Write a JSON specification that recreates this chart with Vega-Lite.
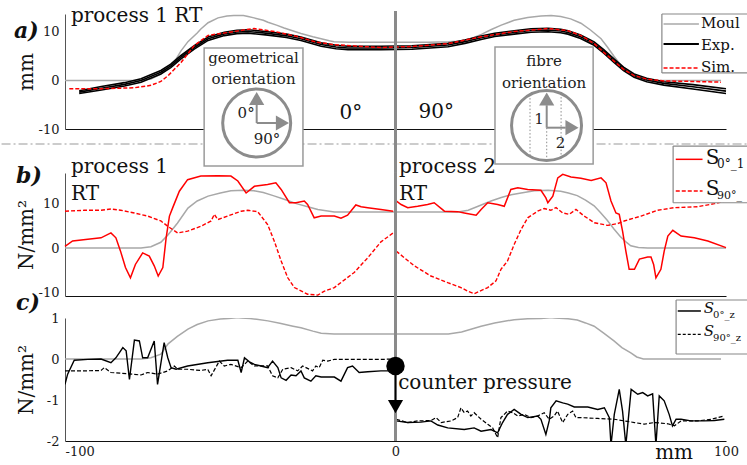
{
"$schema": "https://vega.github.io/schema/vega-lite/v6.json",
"background": "white",
"padding": 0,
"config": {
  "font": "'DejaVu Serif', 'Liberation Serif', serif",
  "view": {"stroke": null},
  "axis": {"grid": false, "ticks": false, "labelFontSize": 13, "labelColor": "#1a1a1a", "titleFontSize": 20, "titleFontWeight": "normal", "titleColor": "#111", "labelPadding": 6, "labelFont": "'DejaVu Serif', 'Liberation Serif', serif", "titleFont": "'DejaVu Serif', 'Liberation Serif', serif"},
  "axisY": {"minExtent": 24, "maxExtent": 24, "titlePadding": 5, "domainColor": "#555"},
  "axisX": {"domainColor": "#111"},
  "text": {"font": "'DejaVu Serif', 'Liberation Serif', serif"}
},
"datasets": {
  "a_mould": [
    {"x":-100,"y":0},{"x":-86,"y":0},{"x":-78,"y":0},{"x":-74,"y":0.3},{"x":-71,"y":1.3},{"x":-68.8,"y":2.6},{"x":-66.5,"y":4.3},{"x":-64.9,"y":6.1},{"x":-62.8,"y":8.0},{"x":-60,"y":9.8},{"x":-58.9,"y":10.6},{"x":-56.7,"y":11.9},{"x":-53.7,"y":12.9},{"x":-51,"y":13.3},{"x":-48.9,"y":13.4},{"x":-46,"y":13.4},{"x":-44.6,"y":13.2},{"x":-42.8,"y":12.9},{"x":-40,"y":12.4},{"x":-38.6,"y":12.0},{"x":-36,"y":11.4},{"x":-33.7,"y":10.8},{"x":-30,"y":10.0},{"x":-28.6,"y":9.7},{"x":-25,"y":9.0},{"x":-22.5,"y":8.6},{"x":-20,"y":8.2},{"x":-18.6,"y":8.0},{"x":-14,"y":7.9},{"x":0,"y":7.9},{"x":10,"y":7.9},{"x":16,"y":8.0},{"x":19,"y":8.1},{"x":22.8,"y":8.6},{"x":26,"y":9.5},{"x":29,"y":10.5},{"x":32,"y":11.4},{"x":35.9,"y":12.4},{"x":40,"y":13.0},{"x":44,"y":13.3},{"x":47.1,"y":13.4},{"x":50,"y":13.2},{"x":53,"y":12.7},{"x":56.1,"y":11.8},{"x":59,"y":10.4},{"x":62.2,"y":8.6},{"x":64,"y":7.0},{"x":66.1,"y":5.0},{"x":68,"y":3.3},{"x":70,"y":1.9},{"x":72,"y":0.9},{"x":74.5,"y":0.25},{"x":77,"y":0},{"x":98.5,"y":0}
  ],
  "a_exp": [
    {"s":"e1","x":-95.7,"y":-2.1},{"s":"e1","x":-89,"y":-1.25},{"s":"e1","x":-82,"y":-0.45},{"s":"e1","x":-77,"y":0.35},{"s":"e1","x":-71,"y":2.05},{"s":"e1","x":-68,"y":3.35},{"s":"e1","x":-64.9,"y":5.15},{"s":"e1","x":-60.9,"y":7.15},{"s":"e1","x":-56.7,"y":8.95},{"s":"e1","x":-51.8,"y":9.95},{"s":"e1","x":-48,"y":10.35},{"s":"e1","x":-44.6,"y":10.45},{"s":"e1","x":-38.6,"y":10.05},{"s":"e1","x":-33,"y":9.55},{"s":"e1","x":-28.6,"y":8.95},{"s":"e1","x":-22.5,"y":7.75},{"s":"e1","x":-18,"y":7.25},{"s":"e1","x":-14.4,"y":7.05},{"s":"e1","x":-4.4,"y":7.05},{"s":"e1","x":5,"y":7.15},{"s":"e1","x":15.9,"y":7.65},{"s":"e1","x":21,"y":8.35},{"s":"e1","x":25.9,"y":9.15},{"s":"e1","x":30,"y":9.75},{"s":"e1","x":35.9,"y":10.25},{"s":"e1","x":41,"y":10.65},{"s":"e1","x":46.2,"y":10.75},{"s":"e1","x":50,"y":10.55},{"s":"e1","x":52.2,"y":10.25},{"s":"e1","x":56,"y":9.35},{"s":"e1","x":60.1,"y":7.95},{"s":"e1","x":63,"y":6.35},{"s":"e1","x":66.1,"y":4.45},{"s":"e1","x":69,"y":2.75},{"s":"e1","x":72.2,"y":1.35},{"s":"e1","x":76,"y":0.45},{"s":"e1","x":81.2,"y":-0.25},{"s":"e1","x":90,"y":-0.85},{"s":"e1","x":100,"y":-1.7},
    {"s":"e2","x":-95.7,"y":-2.4},{"s":"e2","x":-89,"y":-1.6},{"s":"e2","x":-82,"y":-0.8},{"s":"e2","x":-77,"y":0.0},{"s":"e2","x":-71,"y":1.7},{"s":"e2","x":-68,"y":3.0},{"s":"e2","x":-64.9,"y":4.8},{"s":"e2","x":-60.9,"y":6.8},{"s":"e2","x":-56.7,"y":8.6},{"s":"e2","x":-51.8,"y":9.6},{"s":"e2","x":-48,"y":10.0},{"s":"e2","x":-44.6,"y":10.1},{"s":"e2","x":-38.6,"y":9.7},{"s":"e2","x":-33,"y":9.2},{"s":"e2","x":-28.6,"y":8.6},{"s":"e2","x":-22.5,"y":7.4},{"s":"e2","x":-18,"y":6.9},{"s":"e2","x":-14.4,"y":6.7},{"s":"e2","x":-4.4,"y":6.7},{"s":"e2","x":5,"y":6.8},{"s":"e2","x":15.9,"y":7.3},{"s":"e2","x":21,"y":8.0},{"s":"e2","x":25.9,"y":8.8},{"s":"e2","x":30,"y":9.4},{"s":"e2","x":35.9,"y":9.9},{"s":"e2","x":41,"y":10.3},{"s":"e2","x":46.2,"y":10.4},{"s":"e2","x":50,"y":10.2},{"s":"e2","x":52.2,"y":9.9},{"s":"e2","x":56,"y":9.0},{"s":"e2","x":60.1,"y":7.6},{"s":"e2","x":63,"y":6.0},{"s":"e2","x":66.1,"y":4.1},{"s":"e2","x":69,"y":2.4},{"s":"e2","x":72.2,"y":1.0},{"s":"e2","x":76,"y":0.1},{"s":"e2","x":81.2,"y":-0.6},{"s":"e2","x":90,"y":-1.3},{"s":"e2","x":100,"y":-2.2},
    {"s":"e3","x":-95.7,"y":-2.7},{"s":"e3","x":-89,"y":-1.95},{"s":"e3","x":-82,"y":-1.15},{"s":"e3","x":-77,"y":-0.35},{"s":"e3","x":-71,"y":1.35},{"s":"e3","x":-68,"y":2.65},{"s":"e3","x":-64.9,"y":4.45},{"s":"e3","x":-60.9,"y":6.45},{"s":"e3","x":-56.7,"y":8.25},{"s":"e3","x":-51.8,"y":9.25},{"s":"e3","x":-48,"y":9.65},{"s":"e3","x":-44.6,"y":9.75},{"s":"e3","x":-38.6,"y":9.35},{"s":"e3","x":-33,"y":8.85},{"s":"e3","x":-28.6,"y":8.25},{"s":"e3","x":-22.5,"y":7.05},{"s":"e3","x":-18,"y":6.55},{"s":"e3","x":-14.4,"y":6.35},{"s":"e3","x":-4.4,"y":6.35},{"s":"e3","x":5,"y":6.45},{"s":"e3","x":15.9,"y":6.95},{"s":"e3","x":21,"y":7.65},{"s":"e3","x":25.9,"y":8.45},{"s":"e3","x":30,"y":9.05},{"s":"e3","x":35.9,"y":9.55},{"s":"e3","x":41,"y":9.95},{"s":"e3","x":46.2,"y":10.05},{"s":"e3","x":50,"y":9.85},{"s":"e3","x":52.2,"y":9.55},{"s":"e3","x":56,"y":8.65},{"s":"e3","x":60.1,"y":7.25},{"s":"e3","x":63,"y":5.65},{"s":"e3","x":66.1,"y":3.75},{"s":"e3","x":69,"y":2.05},{"s":"e3","x":72.2,"y":0.65},{"s":"e3","x":76,"y":-0.25},{"s":"e3","x":81.2,"y":-0.95},{"s":"e3","x":90,"y":-1.75},{"s":"e3","x":100,"y":-2.7}
  ],
  "a_sim": [
    {"x":-98.7,"y":-1.7},{"x":-89,"y":-1.7},{"x":-79,"y":-1.5},{"x":-74,"y":-1.0},{"x":-71,"y":-0.2},{"x":-68.8,"y":1.0},{"x":-64.9,"y":3.7},{"x":-60.9,"y":7.2},{"x":-56.7,"y":9.3},{"x":-50.6,"y":9.9},{"x":-46,"y":10.4},{"x":-42.8,"y":10.7},{"x":-36.6,"y":10.1},{"x":-30,"y":9.1},{"x":-24,"y":7.9},{"x":-18.6,"y":7.4},{"x":-10,"y":7.0},{"x":-4.4,"y":6.8},{"x":5,"y":7.0},{"x":15.9,"y":7.6},{"x":25.9,"y":9.0},{"x":35.9,"y":10.1},{"x":46.2,"y":10.7},{"x":52,"y":10.3},{"x":56,"y":9.3},{"x":60.1,"y":7.6},{"x":63,"y":5.8},{"x":66.1,"y":4.0},{"x":69,"y":2.3},{"x":72.2,"y":1.0},{"x":76,"y":0.3},{"x":81.2,"y":-0.1},{"x":90,"y":-0.2},{"x":98.5,"y":-0.35}
  ],
  "b_mould": [
    {"x":-100,"y":0},{"x":-77,"y":0},{"x":-74,"y":0.3},{"x":-71,"y":1.3},{"x":-68.8,"y":3.0},{"x":-66,"y":5.6},{"x":-62.8,"y":9.0},{"x":-60,"y":10.6},{"x":-56.7,"y":11.7},{"x":-53,"y":12.4},{"x":-49.8,"y":12.9},{"x":-46,"y":13.0},{"x":-42.8,"y":12.9},{"x":-40,"y":12.5},{"x":-37,"y":11.8},{"x":-33.7,"y":11.0},{"x":-30,"y":10.0},{"x":-26,"y":9.2},{"x":-23.5,"y":8.7},{"x":-20,"y":8.3},{"x":-18.5,"y":8.1},{"x":0,"y":8.1},{"x":18.9,"y":8.1},{"x":22,"y":8.5},{"x":25,"y":9.4},{"x":28.9,"y":10.6},{"x":32,"y":11.4},{"x":35,"y":12.0},{"x":38,"y":12.4},{"x":42,"y":12.9},{"x":46.2,"y":13.0},{"x":50,"y":12.8},{"x":52.3,"y":12.4},{"x":55,"y":11.8},{"x":57.5,"y":10.8},{"x":60.1,"y":9.5},{"x":62,"y":8.0},{"x":64,"y":6.3},{"x":66.1,"y":4.3},{"x":68,"y":2.6},{"x":70,"y":1.2},{"x":71.2,"y":0.5},{"x":73.5,"y":0.1},{"x":76.3,"y":0},{"x":100,"y":0}
  ],
  "b_s0": [
    {"g":"L","x":-100,"y":0.4},{"g":"L","x":-97.7,"y":1.6},{"g":"L","x":-93.1,"y":2.0},{"g":"L","x":-89.1,"y":2.3},{"g":"L","x":-86.1,"y":3.4},{"g":"L","x":-84.6,"y":2.3},{"g":"L","x":-83.2,"y":-0.7},{"g":"L","x":-81.7,"y":-4.4},{"g":"L","x":-80.2,"y":-6.7},{"g":"L","x":-78.7,"y":-3.7},{"g":"L","x":-76.5,"y":-1.1},{"g":"L","x":-74.5,"y":-1.8},{"g":"L","x":-73,"y":-4.0},{"g":"L","x":-71.8,"y":-6.3},{"g":"L","x":-70.4,"y":-4.4},{"g":"L","x":-69.4,"y":2.3},{"g":"L","x":-68.4,"y":7.2},{"g":"L","x":-67.4,"y":9.1},{"g":"L","x":-65.4,"y":12.8},{"g":"L","x":-62.9,"y":15.4},{"g":"L","x":-58.9,"y":16.2},{"g":"L","x":-53.8,"y":16.3},{"g":"L","x":-49.8,"y":16.2},{"g":"L","x":-47.7,"y":15.1},{"g":"L","x":-45.2,"y":12.4},{"g":"L","x":-42.7,"y":13.9},{"g":"L","x":-38.7,"y":14.3},{"g":"L","x":-36.2,"y":14.7},{"g":"L","x":-34.6,"y":13.2},{"g":"L","x":-32.1,"y":10.2},{"g":"L","x":-30.1,"y":10.2},{"g":"L","x":-27.6,"y":10.6},{"g":"L","x":-26.6,"y":9.8},{"g":"L","x":-24.6,"y":6.8},{"g":"L","x":-22.5,"y":7.2},{"g":"L","x":-18.5,"y":7.2},{"g":"L","x":-16.5,"y":6.7},{"g":"L","x":-14.5,"y":7.4},{"g":"L","x":-12,"y":9.7},{"g":"L","x":-10.4,"y":9.3},{"g":"L","x":-8.4,"y":9.1},{"g":"L","x":-4.4,"y":8.7},{"g":"L","x":-0.7,"y":8.3},
    {"g":"R","x":0.2,"y":10.6},{"g":"R","x":1.7,"y":9.8},{"g":"R","x":3.7,"y":9.1},{"g":"R","x":6.7,"y":9.4},{"g":"R","x":9.7,"y":9.8},{"g":"R","x":11.7,"y":10.2},{"g":"R","x":14.8,"y":8.3},{"g":"R","x":18.8,"y":8.2},{"g":"R","x":20.8,"y":7.9},{"g":"R","x":24.4,"y":7.4},{"g":"R","x":25.9,"y":8.7},{"g":"R","x":27.9,"y":10.2},{"g":"R","x":30.9,"y":9.8},{"g":"R","x":32.9,"y":9.4},{"g":"R","x":34.9,"y":13.2},{"g":"R","x":37,"y":13.6},{"g":"R","x":40,"y":13.2},{"g":"R","x":44,"y":13.0},{"g":"R","x":45.5,"y":11.3},{"g":"R","x":46.1,"y":10.2},{"g":"R","x":47.6,"y":11.7},{"g":"R","x":49.1,"y":15.8},{"g":"R","x":50.6,"y":16.6},{"g":"R","x":53.1,"y":16.0},{"g":"R","x":56.1,"y":15.7},{"g":"R","x":59.2,"y":15.2},{"g":"R","x":62.2,"y":15.8},{"g":"R","x":63.7,"y":14.7},{"g":"R","x":65.2,"y":10.6},{"g":"R","x":66.7,"y":7.9},{"g":"R","x":67.7,"y":7.6},{"g":"R","x":68.7,"y":3.8},{"g":"R","x":69.7,"y":-0.7},{"g":"R","x":70.7,"y":-4.8},{"g":"R","x":72.3,"y":-4.8},{"g":"R","x":73.8,"y":-2.5},{"g":"R","x":76.3,"y":-2.0},{"g":"R","x":77.3,"y":-2.0},{"g":"R","x":78.1,"y":-3.7},{"g":"R","x":78.8,"y":-6.7},{"g":"R","x":80.3,"y":-4.8},{"g":"R","x":81.3,"y":-0.7},{"g":"R","x":82.4,"y":2.7},{"g":"R","x":83.9,"y":4.0},{"g":"R","x":86.4,"y":2.7},{"g":"R","x":90.4,"y":2.3},{"g":"R","x":94.5,"y":1.6},{"g":"R","x":100,"y":0.1}
  ],
  "b_s90": [
    {"g":"L","x":-100,"y":8.3},{"g":"L","x":-94.2,"y":8.5},{"g":"L","x":-89.1,"y":8.5},{"g":"L","x":-86.1,"y":8.8},{"g":"L","x":-83.1,"y":8.5},{"g":"L","x":-79,"y":7.9},{"g":"L","x":-75,"y":7.2},{"g":"L","x":-71,"y":6.1},{"g":"L","x":-68.9,"y":4.9},{"g":"L","x":-65.9,"y":3.4},{"g":"L","x":-62.9,"y":3.8},{"g":"L","x":-58.9,"y":4.9},{"g":"L","x":-55.8,"y":6.1},{"g":"L","x":-54.8,"y":7.6},{"g":"L","x":-53.8,"y":6.4},{"g":"L","x":-50.8,"y":7.2},{"g":"L","x":-46.7,"y":8.3},{"g":"L","x":-44.7,"y":8.5},{"g":"L","x":-41.7,"y":8.2},{"g":"L","x":-38.7,"y":5.3},{"g":"L","x":-36.7,"y":1.6},{"g":"L","x":-34.6,"y":-2.9},{"g":"L","x":-32.6,"y":-6.7},{"g":"L","x":-30.6,"y":-8.9},{"g":"L","x":-26.6,"y":-10.4},{"g":"L","x":-23.5,"y":-10.6},{"g":"L","x":-21.5,"y":-9.7},{"g":"L","x":-18.5,"y":-8.9},{"g":"L","x":-12.5,"y":-5.5},{"g":"L","x":-8.4,"y":-2.2},{"g":"L","x":-4.4,"y":1.4},{"g":"L","x":-0.7,"y":3.4},
    {"g":"R","x":0.2,"y":-0.7},{"g":"R","x":5.7,"y":-4.0},{"g":"R","x":10.7,"y":-6.3},{"g":"R","x":15.8,"y":-7.8},{"g":"R","x":19.8,"y":-8.9},{"g":"R","x":21.8,"y":-9.7},{"g":"R","x":23.8,"y":-10.3},{"g":"R","x":27.9,"y":-8.9},{"g":"R","x":30.4,"y":-7.4},{"g":"R","x":31.9,"y":-4.8},{"g":"R","x":33.9,"y":-2.9},{"g":"R","x":35.9,"y":0.8},{"g":"R","x":38,"y":4.2},{"g":"R","x":40,"y":6.8},{"g":"R","x":43,"y":8.3},{"g":"R","x":45,"y":8.9},{"g":"R","x":47,"y":8.5},{"g":"R","x":48.6,"y":9.1},{"g":"R","x":50.6,"y":7.9},{"g":"R","x":52.6,"y":7.6},{"g":"R","x":54.6,"y":8.7},{"g":"R","x":57.1,"y":7.2},{"g":"R","x":60.2,"y":5.7},{"g":"R","x":64.2,"y":5.1},{"g":"R","x":67.2,"y":5.5},{"g":"R","x":69.2,"y":6.1},{"g":"R","x":74.3,"y":7.2},{"g":"R","x":79.3,"y":8.5},{"g":"R","x":84.3,"y":9.1},{"g":"R","x":91.4,"y":9.3},{"g":"R","x":96.5,"y":10.0},{"g":"R","x":100,"y":10.6}
  ],
  "c_mould": [
    {"x":-100,"y":0},{"x":-77,"y":0},{"x":-74,"y":0.03},{"x":-71,"y":0.12},{"x":-68.8,"y":0.37},{"x":-66,"y":0.55},{"x":-62.8,"y":0.73},{"x":-60,"y":0.84},{"x":-56.7,"y":0.93},{"x":-53,"y":0.975},{"x":-50.5,"y":0.99},{"x":-49,"y":0.998},{"x":-48.2,"y":1.005},{"x":-47.4,"y":1.005},{"x":-46.6,"y":0.998},{"x":-44,"y":0.985},{"x":-42,"y":0.97},{"x":-38.6,"y":0.93},{"x":-35,"y":0.87},{"x":-31,"y":0.8},{"x":-28.6,"y":0.76},{"x":-25,"y":0.68},{"x":-22.5,"y":0.63},{"x":-18.6,"y":0.61},{"x":0,"y":0.61},{"x":16,"y":0.61},{"x":20,"y":0.66},{"x":25.9,"y":0.8},{"x":30,"y":0.88},{"x":35.9,"y":0.96},{"x":40,"y":0.98},{"x":44,"y":0.99},{"x":45.8,"y":0.998},{"x":46.6,"y":1.005},{"x":47.4,"y":1.005},{"x":48.2,"y":0.998},{"x":52.2,"y":0.98},{"x":55,"y":0.95},{"x":57.5,"y":0.88},{"x":60.1,"y":0.8},{"x":63,"y":0.63},{"x":66.1,"y":0.44},{"x":68.5,"y":0.28},{"x":71.2,"y":0.15},{"x":73,"y":0.05},{"x":75,"y":0},{"x":98.5,"y":0}
  ],
  "c_s0": [
    {"g":"L","x":-100,"y":-0.62},{"g":"L","x":-99.2,"y":-0.37},{"g":"L","x":-97.2,"y":-0.03},{"g":"L","x":-93.1,"y":-0.01},{"g":"L","x":-89.1,"y":0},{"g":"L","x":-86.1,"y":-0.09},{"g":"L","x":-84.6,"y":0.03},{"g":"L","x":-82.5,"y":0.28},{"g":"L","x":-81.5,"y":0.2},{"g":"L","x":-80.5,"y":-0.5},{"g":"L","x":-79,"y":0.46},{"g":"L","x":-77.5,"y":0.44},{"g":"L","x":-76.5,"y":0.03},{"g":"L","x":-75,"y":0.03},{"g":"L","x":-73,"y":0.44},{"g":"L","x":-72,"y":-0.62},{"g":"L","x":-70,"y":0.4},{"g":"L","x":-68.9,"y":0.03},{"g":"L","x":-67.9,"y":-0.21},{"g":"L","x":-66.4,"y":-0.25},{"g":"L","x":-62.9,"y":-0.17},{"g":"L","x":-56.8,"y":-0.09},{"g":"L","x":-50.8,"y":-0.03},{"g":"L","x":-47.7,"y":-0.03},{"g":"L","x":-46.7,"y":-0.33},{"g":"L","x":-45.7,"y":0.03},{"g":"L","x":-44.2,"y":-0.07},{"g":"L","x":-42.7,"y":-0.13},{"g":"L","x":-40.7,"y":-0.17},{"g":"L","x":-38.7,"y":-0.21},{"g":"L","x":-37.2,"y":-0.05},{"g":"L","x":-35.6,"y":-0.21},{"g":"L","x":-34.6,"y":-0.46},{"g":"L","x":-33.1,"y":-0.52},{"g":"L","x":-31.6,"y":-0.39},{"g":"L","x":-30.1,"y":-0.41},{"g":"L","x":-28.6,"y":-0.29},{"g":"L","x":-27.6,"y":-0.46},{"g":"L","x":-25.6,"y":-0.54},{"g":"L","x":-24.1,"y":-0.41},{"g":"L","x":-22.5,"y":-0.44},{"g":"L","x":-18.5,"y":-0.44},{"g":"L","x":-16.5,"y":-0.54},{"g":"L","x":-14.5,"y":-0.21},{"g":"L","x":-13,"y":-0.17},{"g":"L","x":-11,"y":-0.33},{"g":"L","x":-8.4,"y":-0.31},{"g":"L","x":-4.4,"y":-0.29},{"g":"L","x":-0.7,"y":-0.29},
    {"g":"R","x":0.2,"y":-1.51},{"g":"R","x":3.7,"y":-1.55},{"g":"R","x":7.7,"y":-1.54},{"g":"R","x":10.7,"y":-1.51},{"g":"R","x":12.8,"y":-1.61},{"g":"R","x":15.8,"y":-1.68},{"g":"R","x":20.8,"y":-1.72},{"g":"R","x":23.8,"y":-1.68},{"g":"R","x":25.9,"y":-1.76},{"g":"R","x":28.9,"y":-1.72},{"g":"R","x":30.9,"y":-1.8},{"g":"R","x":32.4,"y":-1.55},{"g":"R","x":33.9,"y":-1.35},{"g":"R","x":35.9,"y":-1.23},{"g":"R","x":38,"y":-1.35},{"g":"R","x":40,"y":-1.43},{"g":"R","x":43,"y":-1.39},{"g":"R","x":44,"y":-1.47},{"g":"R","x":45.5,"y":-1.84},{"g":"R","x":46.5,"y":-1.51},{"g":"R","x":47,"y":-1.19},{"g":"R","x":48.6,"y":-1.02},{"g":"R","x":50.6,"y":-1.07},{"g":"R","x":52.1,"y":-1.1},{"g":"R","x":54.1,"y":-1.17},{"g":"R","x":58.2,"y":-1.17},{"g":"R","x":61.2,"y":-1.23},{"g":"R","x":63.2,"y":-1.19},{"g":"R","x":64.7,"y":-1.43},{"g":"R","x":65.2,"y":-2.1},{"g":"R","x":66.2,"y":-1.35},{"g":"R","x":67.7,"y":-0.74},{"g":"R","x":68.7,"y":-1.27},{"g":"R","x":69.7,"y":-2.1},{"g":"R","x":71.3,"y":-0.74},{"g":"R","x":73.3,"y":-0.86},{"g":"R","x":74.8,"y":-0.82},{"g":"R","x":76.3,"y":-0.9},{"g":"R","x":77.8,"y":-0.85},{"g":"R","x":78.8,"y":-2.1},{"g":"R","x":79.8,"y":-0.9},{"g":"R","x":81.3,"y":-1.02},{"g":"R","x":82.8,"y":-1.35},{"g":"R","x":83.8,"y":-1.63},{"g":"R","x":84.9,"y":-1.47},{"g":"R","x":86.4,"y":-1.47},{"g":"R","x":89.4,"y":-1.51},{"g":"R","x":93.4,"y":-1.51},{"g":"R","x":96.5,"y":-1.5},{"g":"R","x":99.5,"y":-1.47}
  ],
  "c_s90": [
    {"g":"L","x":-100,"y":-0.29},{"g":"L","x":-94.2,"y":-0.29},{"g":"L","x":-89.1,"y":-0.28},{"g":"L","x":-88.1,"y":-0.21},{"g":"L","x":-86.1,"y":-0.33},{"g":"L","x":-81,"y":-0.36},{"g":"L","x":-77,"y":-0.39},{"g":"L","x":-75,"y":-0.33},{"g":"L","x":-72,"y":-0.37},{"g":"L","x":-68.9,"y":-0.29},{"g":"L","x":-66.9,"y":-0.17},{"g":"L","x":-65.9,"y":-0.25},{"g":"L","x":-62.9,"y":-0.25},{"g":"L","x":-58.9,"y":-0.28},{"g":"L","x":-56.8,"y":-0.25},{"g":"L","x":-55.8,"y":-0.41},{"g":"L","x":-53.3,"y":-0.05},{"g":"L","x":-51.8,"y":-0.17},{"g":"L","x":-49.8,"y":-0.13},{"g":"L","x":-46.7,"y":-0.21},{"g":"L","x":-44.7,"y":-0.05},{"g":"L","x":-42.7,"y":-0.17},{"g":"L","x":-38.7,"y":-0.17},{"g":"L","x":-37.2,"y":-0.41},{"g":"L","x":-35.6,"y":-0.46},{"g":"L","x":-34.1,"y":-0.25},{"g":"L","x":-31.6,"y":-0.21},{"g":"L","x":-29.6,"y":-0.29},{"g":"L","x":-28.1,"y":-0.17},{"g":"L","x":-26.1,"y":-0.25},{"g":"L","x":-25.1,"y":-0.29},{"g":"L","x":-24.1,"y":-0.17},{"g":"L","x":-23.1,"y":-0.21},{"g":"L","x":-22,"y":-0.03},{"g":"L","x":-20.5,"y":-0.05},{"g":"L","x":-18.5,"y":-0.01},{"g":"L","x":-4.4,"y":-0.01},{"g":"L","x":-0.7,"y":0},
    {"g":"R","x":0.2,"y":-1.47},{"g":"R","x":3.7,"y":-1.55},{"g":"R","x":6.7,"y":-1.51},{"g":"R","x":10.7,"y":-1.5},{"g":"R","x":12.3,"y":-1.43},{"g":"R","x":13.8,"y":-1.55},{"g":"R","x":16.8,"y":-1.51},{"g":"R","x":18.8,"y":-1.43},{"g":"R","x":19.8,"y":-1.19},{"g":"R","x":20.8,"y":-1.31},{"g":"R","x":21.8,"y":-1.27},{"g":"R","x":22.8,"y":-1.39},{"g":"R","x":23.8,"y":-1.31},{"g":"R","x":25.9,"y":-1.47},{"g":"R","x":27.9,"y":-1.59},{"g":"R","x":29.4,"y":-1.68},{"g":"R","x":30.9,"y":-1.92},{"g":"R","x":31.9,"y":-1.43},{"g":"R","x":33.9,"y":-1.27},{"g":"R","x":35.5,"y":-1.31},{"g":"R","x":37,"y":-1.39},{"g":"R","x":39,"y":-1.35},{"g":"R","x":41,"y":-1.43},{"g":"R","x":43,"y":-1.39},{"g":"R","x":44,"y":-1.35},{"g":"R","x":45,"y":-1.31},{"g":"R","x":46.5,"y":-1.47},{"g":"R","x":48,"y":-1.39},{"g":"R","x":49,"y":-1.27},{"g":"R","x":50.6,"y":-1.55},{"g":"R","x":52.1,"y":-1.35},{"g":"R","x":53.6,"y":-1.27},{"g":"R","x":54.6,"y":-1.43},{"g":"R","x":56.1,"y":-1.43},{"g":"R","x":61.2,"y":-1.45},{"g":"R","x":66.2,"y":-1.47},{"g":"R","x":72.3,"y":-1.55},{"g":"R","x":75.3,"y":-1.59},{"g":"R","x":78.3,"y":-1.55},{"g":"R","x":82.4,"y":-1.58},{"g":"R","x":84.4,"y":-1.63},{"g":"R","x":86.4,"y":-1.51},{"g":"R","x":91.4,"y":-1.51},{"g":"R","x":95.5,"y":-1.47},{"g":"R","x":97.5,"y":-1.43},{"g":"R","x":99.5,"y":-1.39}
  ]
},
"spacing": 44,
"bounds": "flush",
"vconcat": [
{
  "width": 661, "height": 115,
  "data": {"values": [{}]},
  "layer": [
    {"data": {"name": "a_mould"}, "mark": {"type": "line", "color": "#a8a8a8", "strokeWidth": 1.5},
     "encoding": {
       "x": {"field": "x", "type": "quantitative", "scale": {"domain": [-100, 100], "nice": false, "zero": false}, "axis": {"labels": false, "title": null}},
       "y": {"field": "y", "type": "quantitative", "scale": {"domain": [-10, 13.7], "nice": false, "zero": false}, "axis": {"values": [-10, 0, 10], "title": "mm", "labelExpr": "''+datum.value"}}}},
    {"data": {"name": "a_exp"}, "mark": {"type": "line", "color": "#000000", "strokeWidth": 1.6},
     "encoding": {"x": {"field": "x", "type": "quantitative"}, "y": {"field": "y", "type": "quantitative"}, "detail": {"field": "s"}}},
    {"data": {"name": "a_sim"}, "mark": {"type": "line", "color": "#ff0000", "strokeWidth": 1.5, "strokeDash": [4, 2]},
     "encoding": {"x": {"field": "x", "type": "quantitative"}, "y": {"field": "y", "type": "quantitative"}}},
    {"mark": {"type": "rule", "color": "#9a9a9a", "strokeWidth": 1.2, "strokeDash": [9, 3, 2, 3]},
     "encoding": {"x": {"datum": -119.2}, "x2": {"datum": 106.5}, "y": {"datum": -13.09}}},
    {"mark": {"type": "rule", "color": "#8a8a8a", "strokeWidth": 3},
     "encoding": {"x": {"datum": 0}, "y": {"datum": 14.32}, "y2": {"datum": -19.06}}},
    {"mark": {"type": "rect", "fill": "white", "stroke": "#9a9a9a", "strokeWidth": 1.5},
     "encoding": {"x": {"datum": -57.9}, "x2": {"datum": -28.0}, "y": {"datum": 6.7}, "y2": {"datum": -17.62}}},
    {"mark": {"type": "text", "text": "geometrical", "fontSize": 15, "color": "#222"}, "encoding": {"x": {"datum": -42.95}, "y": {"datum": 4.64}}},
    {"mark": {"type": "text", "text": "orientation", "fontSize": 15, "color": "#222"}, "encoding": {"x": {"datum": -42.95}, "y": {"datum": 0.31}}},
    {"mark": {"type": "point", "shape": "circle", "size": 4624, "filled": false, "color": "#8c8c8c", "strokeWidth": 3, "opacity": 1}, "encoding": {"x": {"datum": -42.0}, "y": {"datum": -8.76}}},
    {"mark": {"type": "rule", "color": "#8c8c8c", "strokeWidth": 2}, "encoding": {"x": {"datum": -42.0}, "y": {"datum": -8.76}, "y2": {"datum": -5.0}}},
    {"mark": {"type": "point", "shape": "triangle-up", "size": 230, "filled": true, "color": "#8c8c8c", "opacity": 1}, "encoding": {"x": {"datum": -42.0}, "y": {"datum": -3.71}}},
    {"mark": {"type": "rule", "color": "#8c8c8c", "strokeWidth": 2}, "encoding": {"x": {"datum": -42.0}, "x2": {"datum": -36.0}, "y": {"datum": -8.76}}},
    {"mark": {"type": "point", "shape": "triangle-right", "size": 230, "filled": true, "color": "#8c8c8c", "opacity": 1}, "encoding": {"x": {"datum": -34.2}, "y": {"datum": -8.76}}},
    {"mark": {"type": "text", "text": "0°", "fontSize": 15, "color": "#222"}, "encoding": {"x": {"datum": -45.2}, "y": {"datum": -6.64}}},
    {"mark": {"type": "text", "text": "90°", "fontSize": 15, "color": "#222"}, "encoding": {"x": {"datum": -38.9}, "y": {"datum": -12.12}}},
    {"mark": {"type": "rect", "fill": "white", "stroke": "#9a9a9a", "strokeWidth": 1.5},
     "encoding": {"x": {"datum": 30.1}, "x2": {"datum": 59.8}, "y": {"datum": 6.9}, "y2": {"datum": -17.21}}},
    {"mark": {"type": "text", "text": "fibre", "fontSize": 15, "color": "#222"}, "encoding": {"x": {"datum": 44.95}, "y": {"datum": 4.02}}},
    {"mark": {"type": "text", "text": "orientation", "fontSize": 15, "color": "#222"}, "encoding": {"x": {"datum": 44.95}, "y": {"datum": -0.52}}},
    {"mark": {"type": "rule", "color": "#8c8c8c", "strokeWidth": 1, "strokeDash": [1.5, 2]}, "encoding": {"x": {"datum": 40.7}, "y": {"datum": -2.91}, "y2": {"datum": -15.64}}},
    {"mark": {"type": "rule", "color": "#8c8c8c", "strokeWidth": 1, "strokeDash": [1.5, 2]}, "encoding": {"x": {"datum": 50.1}, "y": {"datum": -2.7}, "y2": {"datum": -15.85}}},
    {"mark": {"type": "rule", "color": "#8c8c8c", "strokeWidth": 1, "strokeDash": [1.5, 2]}, "encoding": {"x": {"datum": 45.75}, "y": {"datum": -9.73}, "y2": {"datum": -16.49}}},
    {"mark": {"type": "point", "shape": "circle", "size": 4900, "filled": false, "color": "#8c8c8c", "strokeWidth": 3, "opacity": 1}, "encoding": {"x": {"datum": 45.7}, "y": {"datum": -9.27}}},
    {"mark": {"type": "rule", "color": "#8c8c8c", "strokeWidth": 2}, "encoding": {"x": {"datum": 45.75}, "y": {"datum": -9.73}, "y2": {"datum": -5.1}}},
    {"mark": {"type": "point", "shape": "triangle-up", "size": 230, "filled": true, "color": "#8c8c8c", "opacity": 1}, "encoding": {"x": {"datum": 45.75}, "y": {"datum": -3.81}}},
    {"mark": {"type": "rule", "color": "#8c8c8c", "strokeWidth": 2}, "encoding": {"x": {"datum": 45.75}, "x2": {"datum": 51.5}, "y": {"datum": -9.73}}},
    {"mark": {"type": "point", "shape": "triangle-right", "size": 230, "filled": true, "color": "#8c8c8c", "opacity": 1}, "encoding": {"x": {"datum": 53.4}, "y": {"datum": -9.73}}},
    {"mark": {"type": "text", "text": "1", "fontSize": 15, "color": "#222"}, "encoding": {"x": {"datum": 43.4}, "y": {"datum": -7.93}}},
    {"mark": {"type": "text", "text": "2", "fontSize": 15, "color": "#222"}, "encoding": {"x": {"datum": 49.9}, "y": {"datum": -12.82}}},
    {"mark": {"type": "text", "text": "0°", "fontSize": 20, "color": "#111"}, "encoding": {"x": {"datum": -13.5}, "y": {"datum": -6.7}}},
    {"mark": {"type": "text", "text": "90°", "fontSize": 20, "color": "#111"}, "encoding": {"x": {"datum": 12.3}, "y": {"datum": -6.49}}},
    {"mark": {"type": "text", "text": "process 1 RT", "fontSize": 20, "align": "left", "color": "#111"}, "encoding": {"x": {"datum": -98.2}, "y": {"datum": 13.3}}},
    {"mark": {"type": "text", "text": "a)", "fontSize": 22, "fontWeight": "bold", "fontStyle": "italic", "align": "left", "color": "#111"}, "encoding": {"x": {"datum": -115.4}, "y": {"datum": 10.2}}},
    {"mark": {"type": "rect", "fill": "white"}, "encoding": {"x": {"datum": 80.6}, "x2": {"datum": 106.6}, "y": {"datum": 13.7}, "y2": {"datum": 1.55}}},
    {"mark": {"type": "rule", "color": "#888", "strokeWidth": 1.2}, "encoding": {"x": {"datum": 80.6}, "x2": {"datum": 106.4}, "y": {"datum": 13.7}}},
    {"mark": {"type": "rule", "color": "#888", "strokeWidth": 1.2}, "encoding": {"x": {"datum": 80.6}, "x2": {"datum": 106.4}, "y": {"datum": 1.55}}},
    {"mark": {"type": "rule", "color": "#888", "strokeWidth": 1.2}, "encoding": {"x": {"datum": 80.6}, "y": {"datum": 13.7}, "y2": {"datum": 1.55}}},
    {"mark": {"type": "rule", "color": "#a8a8a8", "strokeWidth": 1.5}, "encoding": {"x": {"datum": 81.1}, "x2": {"datum": 91.8}, "y": {"datum": 11.64}}},
    {"mark": {"type": "rule", "color": "#000", "strokeWidth": 1.8}, "encoding": {"x": {"datum": 81.1}, "x2": {"datum": 91.8}, "y": {"datum": 7.52}}},
    {"mark": {"type": "rule", "color": "#ff0000", "strokeWidth": 1.5, "strokeDash": [4, 2]}, "encoding": {"x": {"datum": 81.1}, "x2": {"datum": 91.8}, "y": {"datum": 2.58}}},
    {"mark": {"type": "text", "text": "Mould", "fontSize": 15, "align": "left", "color": "#111", "limit": 47, "ellipsis": " "}, "encoding": {"x": {"datum": 92.4}, "y": {"datum": 11.8}}},
    {"mark": {"type": "text", "text": "Exp.", "fontSize": 15, "align": "left", "color": "#111"}, "encoding": {"x": {"datum": 92.4}, "y": {"datum": 7.4}}},
    {"mark": {"type": "text", "text": "Sim.", "fontSize": 15, "align": "left", "color": "#111"}, "encoding": {"x": {"datum": 92.4}, "y": {"datum": 2.8}}},
    {"mark": {"type": "rule", "strokeWidth": 0, "opacity": 0}, "encoding": {"x": {"datum": -119.36}, "x2": {"datum": 106.66}, "y": {"datum": 16.38}}}
  ]
},
{
  "spacing": 22,
  "bounds": "flush",
  "vconcat": [
  {
    "width": 661, "height": 123,
    "data": {"values": [{}]},
    "layer": [
      {"data": {"name": "b_mould"}, "mark": {"type": "line", "color": "#a8a8a8", "strokeWidth": 1.5},
       "encoding": {
         "x": {"field": "x", "type": "quantitative", "scale": {"domain": [-100, 100], "nice": false, "zero": false}, "axis": {"labels": false, "title": null}},
         "y": {"field": "y", "type": "quantitative", "scale": {"domain": [-10.8, 16.9], "nice": false, "zero": false}, "axis": {"values": [-10, 0, 10], "title": "N/mm²", "labelExpr": "''+datum.value"}}}},
      {"data": {"name": "b_s90"}, "mark": {"type": "line", "color": "#ff0000", "strokeWidth": 1.4, "strokeDash": [4, 2]},
       "encoding": {"x": {"field": "x", "type": "quantitative"}, "y": {"field": "y", "type": "quantitative"}, "detail": {"field": "g"}}},
      {"data": {"name": "b_s0"}, "mark": {"type": "line", "color": "#ff0000", "strokeWidth": 1.5},
       "encoding": {"x": {"field": "x", "type": "quantitative"}, "y": {"field": "y", "type": "quantitative"}, "detail": {"field": "g"}}},
      {"mark": {"type": "rule", "color": "#8a8a8a", "strokeWidth": 3}, "encoding": {"x": {"datum": 0}, "y": {"datum": -10.8}, "y2": {"datum": 16.9}}},
      {"mark": {"type": "text", "text": "process 1", "fontSize": 20, "align": "left", "color": "#111"}, "encoding": {"x": {"datum": -98.2}, "y": {"datum": 18.24}}},
      {"mark": {"type": "text", "text": "RT", "fontSize": 20, "align": "left", "color": "#111"}, "encoding": {"x": {"datum": -98.2}, "y": {"datum": 12.16}}},
      {"mark": {"type": "text", "text": "process 2", "fontSize": 20, "align": "left", "color": "#111"}, "encoding": {"x": {"datum": 1.06}, "y": {"datum": 18.24}}},
      {"mark": {"type": "text", "text": "RT", "fontSize": 20, "align": "left", "color": "#111"}, "encoding": {"x": {"datum": 1.06}, "y": {"datum": 12.16}}},
      {"mark": {"type": "text", "text": "b)", "fontSize": 22, "fontWeight": "bold", "fontStyle": "italic", "align": "left", "color": "#111"}, "encoding": {"x": {"datum": -114.8}, "y": {"datum": 16.2}}},
      {"mark": {"type": "rect", "fill": "white"}, "encoding": {"x": {"datum": 84.0}, "x2": {"datum": 106.6}, "y": {"datum": 22.97}, "y2": {"datum": 10.2}}},
      {"mark": {"type": "rule", "color": "#888", "strokeWidth": 1.2}, "encoding": {"x": {"datum": 84.0}, "x2": {"datum": 106.4}, "y": {"datum": 22.97}}},
      {"mark": {"type": "rule", "color": "#888", "strokeWidth": 1.2}, "encoding": {"x": {"datum": 84.0}, "x2": {"datum": 106.4}, "y": {"datum": 10.2}}},
      {"mark": {"type": "rule", "color": "#888", "strokeWidth": 1.2}, "encoding": {"x": {"datum": 84.0}, "y": {"datum": 22.97}, "y2": {"datum": 10.2}}},
      {"mark": {"type": "rule", "color": "#ff0000", "strokeWidth": 1.5}, "encoding": {"x": {"datum": 84.8}, "x2": {"datum": 92.9}, "y": {"datum": 19.98}}},
      {"mark": {"type": "rule", "color": "#ff0000", "strokeWidth": 1.5, "strokeDash": [4, 2]}, "encoding": {"x": {"datum": 84.8}, "x2": {"datum": 92.9}, "y": {"datum": 12.84}}},
      {"mark": {"type": "text", "text": "S", "fontSize": 20, "align": "left", "color": "#111"}, "encoding": {"x": {"datum": 93.9}, "y": {"datum": 20.34}}},
      {"mark": {"type": "text", "text": "0°_1", "fontSize": 12, "align": "left", "color": "#111"}, "encoding": {"x": {"datum": 97.3}, "y": {"datum": 18.92}}},
      {"mark": {"type": "text", "text": "S", "fontSize": 20, "align": "left", "color": "#111"}, "encoding": {"x": {"datum": 93.9}, "y": {"datum": 13.29}}},
      {"mark": {"type": "text", "text": "90°_ 1", "fontSize": 11, "align": "left", "color": "#111", "limit": 31, "ellipsis": " "}, "encoding": {"x": {"datum": 97.3}, "y": {"datum": 11.71}}}
    ]
  },
  {
    "width": 661, "height": 123,
    "data": {"values": [{}]},
    "layer": [
      {"data": {"name": "c_mould"}, "mark": {"type": "line", "color": "#a8a8a8", "strokeWidth": 1.5, "clip": true},
       "encoding": {
         "x": {"field": "x", "type": "quantitative", "scale": {"domain": [-100, 100], "nice": false, "zero": false},
               "axis": {"values": [-100, 0, 100], "title": null, "labelPadding": 4, "labelFlush": false, "labelExpr": "''+datum.value",
                        "labelAlign": {"condition": {"test": "datum.value <= -100", "value": "left"}, "value": "center"}}},
         "y": {"field": "y", "type": "quantitative", "scale": {"domain": [-2, 1], "nice": false, "zero": false}, "axis": {"values": [-2, -1, 0, 1], "title": "N/mm²", "labelExpr": "''+datum.value"}}}},
      {"data": {"name": "c_s90"}, "mark": {"type": "line", "color": "#000000", "strokeWidth": 1.2, "strokeDash": [4, 2], "clip": true},
       "encoding": {"x": {"field": "x", "type": "quantitative"}, "y": {"field": "y", "type": "quantitative"}, "detail": {"field": "g"}}},
      {"data": {"name": "c_s0"}, "mark": {"type": "line", "color": "#000000", "strokeWidth": 1.4, "clip": true},
       "encoding": {"x": {"field": "x", "type": "quantitative"}, "y": {"field": "y", "type": "quantitative"}, "detail": {"field": "g"}}},
      {"mark": {"type": "rule", "color": "#8a8a8a", "strokeWidth": 3}, "encoding": {"x": {"datum": 0}, "y": {"datum": -2}, "y2": {"datum": 1.537}}},
      {"mark": {"type": "rule", "color": "#000", "strokeWidth": 1.5}, "encoding": {"x": {"datum": 0}, "y": {"datum": -0.17}, "y2": {"datum": -1.0}}},
      {"mark": {"type": "point", "shape": "triangle-down", "size": 230, "filled": true, "color": "#000", "opacity": 1}, "encoding": {"x": {"datum": 0}, "y": {"datum": -1.16}}},
      {"mark": {"type": "point", "shape": "circle", "size": 340, "filled": true, "color": "#000", "opacity": 1}, "encoding": {"x": {"datum": 0}, "y": {"datum": -0.17}}},
      {"mark": {"type": "text", "text": "counter pressure", "fontSize": 20, "align": "left", "color": "#111"}, "encoding": {"x": {"datum": 0.8}, "y": {"datum": -0.585}}},
      {"mark": {"type": "text", "text": "c)", "fontSize": 22, "fontWeight": "bold", "fontStyle": "italic", "align": "left", "color": "#111"}, "encoding": {"x": {"datum": -114.8}, "y": {"datum": 1.37}}},
      {"mark": {"type": "text", "text": "mm", "fontSize": 20, "color": "#111"}, "encoding": {"x": {"datum": 84.3}, "y": {"datum": -2.29}}},
      {"mark": {"type": "rect", "fill": "white"}, "encoding": {"x": {"datum": 84.9}, "x2": {"datum": 106.6}, "y": {"datum": 1.439}, "y2": {"datum": 0.122}}},
      {"mark": {"type": "rule", "color": "#888", "strokeWidth": 1.2}, "encoding": {"x": {"datum": 84.9}, "x2": {"datum": 106.4}, "y": {"datum": 1.439}}},
      {"mark": {"type": "rule", "color": "#888", "strokeWidth": 1.2}, "encoding": {"x": {"datum": 84.9}, "x2": {"datum": 106.4}, "y": {"datum": 0.122}}},
      {"mark": {"type": "rule", "color": "#888", "strokeWidth": 1.2}, "encoding": {"x": {"datum": 84.9}, "y": {"datum": 1.439}, "y2": {"datum": 0.122}}},
      {"mark": {"type": "rule", "color": "#000", "strokeWidth": 1.5}, "encoding": {"x": {"datum": 85.4}, "x2": {"datum": 92.4}, "y": {"datum": 1.171}}},
      {"mark": {"type": "rule", "color": "#000", "strokeWidth": 1.2, "strokeDash": [3, 2]}, "encoding": {"x": {"datum": 85.4}, "x2": {"datum": 92.4}, "y": {"datum": 0.602}}},
      {"mark": {"type": "text", "text": "S", "fontSize": 15, "fontStyle": "italic", "align": "left", "color": "#111"}, "encoding": {"x": {"datum": 93.3}, "y": {"datum": 1.244}}},
      {"mark": {"type": "text", "text": "0°_z", "fontSize": 10, "align": "left", "color": "#111"}, "encoding": {"x": {"datum": 96.1}, "y": {"datum": 1.073}}},
      {"mark": {"type": "text", "text": "S", "fontSize": 15, "fontStyle": "italic", "align": "left", "color": "#111"}, "encoding": {"x": {"datum": 93.3}, "y": {"datum": 0.683}}},
      {"mark": {"type": "text", "text": "90°_z", "fontSize": 10, "align": "left", "color": "#111"}, "encoding": {"x": {"datum": 96.1}, "y": {"datum": 0.512}}},
      {"mark": {"type": "rule", "strokeWidth": 0, "opacity": 0}, "encoding": {"x": {"datum": -119.36}, "x2": {"datum": 106.66}, "y": {"datum": -2.61}}}
    ]
  }
  ]
}
]
}
